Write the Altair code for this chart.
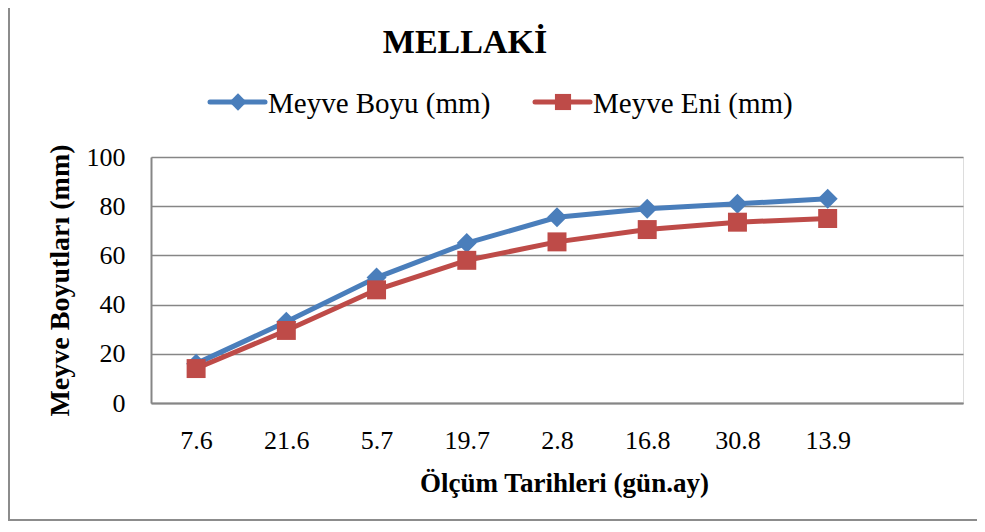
import altair as alt
import pandas as pd

# ---- data ----
dates = ["7.6", "21.6", "5.7", "19.7", "2.8", "16.8", "30.8", "13.9"]
boy = [16.0, 33.0, 51.0, 65.0, 75.5, 79.0, 81.0, 83.0]   # Meyve Boyu (mm)
en = [14.0, 29.5, 46.0, 58.0, 65.5, 70.5, 73.5, 75.0]    # Meyve Eni (mm)
series_names = ["Meyve Boyu (mm)", "Meyve Eni (mm)"]
y_ticks = [0, 20, 40, 60, 80, 100]
chart_title = "MELLAKİ"
x_title = "Ölçüm Tarihleri (gün.ay)"
y_title = "Meyve Boyutları (mm)"

x_domain = dates + [" "]  # empty trailing slot, as in the reference

df = pd.DataFrame({
    "date": dates * 2,
    "value": boy + en,
    "series": [series_names[0]] * len(dates) + [series_names[1]] * len(dates),
})

BLUE = "#4a7ebb"
RED = "#be4b48"
GRID = "#868686"
FONT = "'Liberation Serif', 'Times New Roman', Times, 'DejaVu Serif', serif"
W, H = 812, 246

x_enc = alt.X("date:N", sort=x_domain,
              scale=alt.Scale(type="point", domain=x_domain, padding=0.5),
              axis=alt.Axis(title=x_title, labelAngle=0, ticks=False, tickSize=0,
                            labelPadding=24, labelFontSize=26, labelFont=FONT,
                            labelColor="#000", titleFont=FONT, titleFontSize=27,
                            titleFontWeight="bold", titleColor="#000",
                            titleX=413, titleY=80, titleBaseline="middle",
                            domainColor=GRID, domainWidth=2, grid=False))
y_enc = alt.Y("value:Q",
              scale=alt.Scale(domain=[0, 100], nice=False),
              axis=alt.Axis(title=y_title, values=y_ticks, ticks=False, tickSize=0,
                            labelPadding=26, labelFontSize=26, labelFont=FONT,
                            labelColor="#000", titleFont=FONT, titleFontSize=28,
                            titleFontWeight="bold", titleColor="#000",
                            titleX=-91, titleY=123, titleAngle=-90,
                            titleBaseline="middle", titleAlign="center",
                            domainColor=GRID, domainWidth=2,
                            grid=True, gridColor=GRID, gridWidth=1.5))

base = alt.Chart(df)

def series_layers(name, color, shape, size):
    d = base.transform_filter(alt.datum.series == name)
    line = d.mark_line(color=color, strokeWidth=5).encode(x=x_enc, y=y_enc)
    pts = d.mark_point(color=color, filled=True, opacity=1, shape=shape,
                       size=size).encode(x=x_enc, y=y_enc)
    return [line, pts]

one = alt.Chart(pd.DataFrame({"k": [0]}))

border = one.mark_rect(fillOpacity=0, stroke="#8c8c8c", strokeWidth=2).encode(
    x=alt.value(-142), x2=alt.value(900), y=alt.value(-200), y2=alt.value(363))

title = one.mark_text(font=FONT, fontSize=34, fontWeight="bold", color="#000",
                      align="center", baseline="alphabetic").encode(
    x=alt.value(314), y=alt.value(-104), text=alt.value(chart_title))

def legend_item(x0, name, color, shape, size):
    ln = one.mark_rule(color=color, strokeWidth=5, strokeCap="round").encode(
        x=alt.value(x0), x2=alt.value(x0 + 55), y=alt.value(-55))
    mk = one.mark_point(color=color, filled=True, opacity=1, shape=shape,
                        size=size).encode(x=alt.value(x0 + 28), y=alt.value(-55))
    tx = one.mark_text(font=FONT, fontSize=29, color="#000", align="left",
                       baseline="alphabetic").encode(
        x=alt.value(x0 + 58), y=alt.value(-44), text=alt.value(name))
    return [ln, mk, tx]

layers = [border, title]
layers += legend_item(59, series_names[0], BLUE, "diamond", 300)
layers += legend_item(384, series_names[1], RED, "square", 260)
layers += series_layers(series_names[0], BLUE, "diamond", 400)
layers += series_layers(series_names[1], RED, "square", 360)

chart = alt.layer(*layers).properties(
    width=W, height=H,
    autosize=alt.AutoSizeParams(type="none"),
    padding={"left": 143, "top": 149, "right": 14, "bottom": 119},
).configure_view(stroke=None).configure(background="white")

chart.save("out.html", embed_options={"renderer": "svg", "actions": False})
